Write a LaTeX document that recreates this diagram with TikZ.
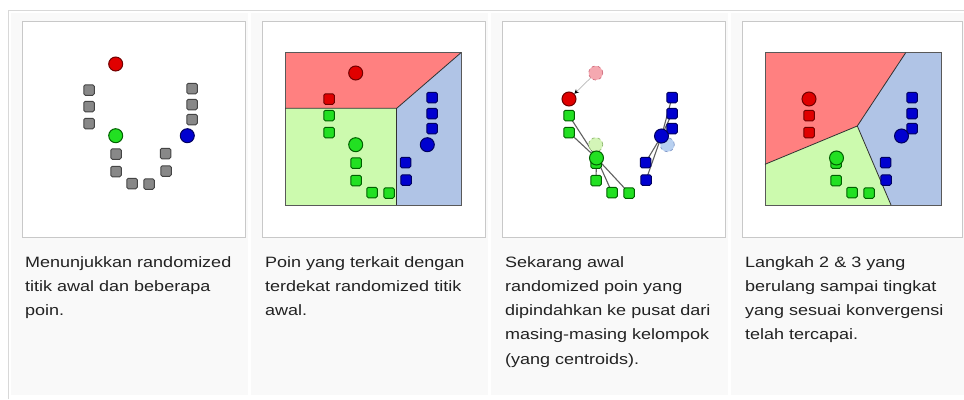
\documentclass[tikz,border=0pt]{standalone}
\usepackage{fontspec}
\setmainfont{Liberation Sans}[FakeStretch=1.2]
\usepackage{tikz}
\usetikzlibrary{arrows.meta}

\definecolor{framegray}{HTML}{D8D8D8}
\definecolor{boxgray}{HTML}{C8C8C8}
\definecolor{cellgray}{HTML}{F9F9F9}
\definecolor{textgray}{HTML}{222222}
\definecolor{ptgray}{HTML}{888888}
\definecolor{ptgrayline}{HTML}{444444}
\definecolor{ptred}{HTML}{E00000}
\definecolor{ptredline}{HTML}{700000}
\definecolor{ptgreen}{HTML}{22E022}
\definecolor{ptgreenline}{HTML}{006000}
\definecolor{ptblue}{HTML}{0000D0}
\definecolor{ptblueline}{HTML}{000060}
\definecolor{regred}{HTML}{FF8080}
\definecolor{reggreen}{HTML}{CCFAAE}
\definecolor{regblue}{HTML}{B0C4E6}
\definecolor{regline}{HTML}{303030}
\definecolor{oldred}{HTML}{F5A8B0}
\definecolor{oldredline}{HTML}{D07080}
\definecolor{oldgreen}{HTML}{D4F5B8}
\definecolor{oldgreenline}{HTML}{90B870}
\definecolor{oldblue}{HTML}{B8D0F0}
\definecolor{oldblueline}{HTML}{8098C8}

\pgfdeclarelayer{back}
\pgfdeclarelayer{links}
\pgfsetlayers{back,links,main}

\begin{document}
\begin{tikzpicture}[x=1pt, y=-1pt,
		pt_base/.style={rectangle,rounded corners=1.5pt,minimum size=10.5pt,inner sep=0pt,line width=1pt},
		pt_gray/.style={pt_base,draw=ptgrayline,fill=ptgray},
		pt_red/.style={pt_base,draw=ptredline,fill=ptred},
		pt_green/.style={pt_base,draw=ptgreenline,fill=ptgreen},
		pt_blue/.style={pt_base,draw=ptblueline,fill=ptblue},
		mean_base/.style={circle,minimum size=14pt,inner sep=0pt,line width=1pt},
		mean_red/.style={mean_base,draw=ptredline,fill=ptred},
		mean_green/.style={mean_base,draw=ptgreenline,fill=ptgreen},
		mean_blue/.style={mean_base,draw=ptblueline,fill=ptblue},
		old_red/.style={mean_base,dashed,line width=0.7pt,draw=oldredline,fill=oldred},
		old_green/.style={mean_base,dashed,line width=0.7pt,draw=oldgreenline,fill=oldgreen},
		old_blue/.style={mean_base,dashed,line width=0.7pt,draw=oldblueline,fill=oldblue},
		link_style/.style={draw=gray!75!black,line width=1.1pt},
		move_style/.style={draw=gray!55,line width=0.7pt,-{Stealth[length=4.5pt,width=4.5pt,black]}},
		region_line/.style={draw=regline,line width=0.8pt},
		box_style/.style={draw=boxgray,fill=white,line width=0.8pt},
		cell_style/.style={fill=cellgray},
		caption_style/.style={anchor=base west,align=left,inner sep=0pt,
			font=\fontsize{15}{24.3}\selectfont,text=textgray}]

	\useasboundingbox (0,0) rectangle (964,399);

	% frame, cells and picture boxes
	\begin{pgfonlayer}{back}
		\fill[white] (0,0) rectangle (964,399);
		\draw[framegray,line width=1pt] (8.5,399) -- (8.5,10.5) -- (964,10.5);
		\foreach \k in {0,1,2,3} {
			\fill[cell_style] (11+240*\k,13) rectangle (248+240*\k,395);
		}
		\draw[box_style] (22,21) rectangle (245,237);
		\draw[box_style] (262,21) rectangle (485,237);
		\draw[box_style] (502,21) rectangle (725,237);
		\draw[box_style] (742,21) rectangle (962.5,237);
	\end{pgfonlayer}

	% panel 1: random means and points
	\begin{scope}
		\node[pt_gray] (a_l1) at (89,90) {};
		\node[pt_gray] (a_l2) at (89,106.5) {};
		\node[pt_gray] (a_l3) at (89,123.5) {};
		\node[pt_gray] (a_r1) at (192,88.5) {};
		\node[pt_gray] (a_r2) at (192,104.5) {};
		\node[pt_gray] (a_r3) at (192,119.5) {};
		\node[pt_gray] (a_g1) at (116,154) {};
		\node[pt_gray] (a_g2) at (116,171.5) {};
		\node[pt_gray] (a_g3) at (132,183.5) {};
		\node[pt_gray] (a_g4) at (149,184) {};
		\node[pt_gray] (a_c1) at (165.5,153.5) {};
		\node[pt_gray] (a_c2) at (166,171) {};
		\node[mean_red] (a_mr) at (115.7,64) {};
		\node[mean_green] (a_mg) at (115.7,135.7) {};
		\node[mean_blue] (a_mb) at (187.3,135.7) {};
	\end{scope}

	% panel 2: clusters around the nearest mean
	\begin{scope}[shift={(240,9)}]
		\fill[regred] (45,43.7) -- (221,43.7) -- (156.7,99.3) -- (45,99.3) -- cycle;
		\fill[reggreen] (45,99.3) -- (156.7,99.3) -- (156.7,196) -- (45,196) -- cycle;
		\fill[regblue] (156.7,99.3) -- (221,43.7) -- (221,196) -- (156.7,196) -- cycle;
		\draw[region_line,draw=regline!80] (45,43.7) rectangle (221,196);
		\draw[region_line] (45,99.3) -- (156.7,99.3) -- (221,43.7);
		\draw[region_line] (156.7,99.3) -- (156.7,196);
		\node[pt_red] (b_l1) at (89,90) {};
		\node[pt_green] (b_l2) at (89,106.5) {};
		\node[pt_green] (b_l3) at (89,123.5) {};
		\node[pt_blue] (b_r1) at (192,88.5) {};
		\node[pt_blue] (b_r2) at (192,104.5) {};
		\node[pt_blue] (b_r3) at (192,119.5) {};
		\node[pt_green] (b_g1) at (116,154) {};
		\node[pt_green] (b_g2) at (116,171.5) {};
		\node[pt_green] (b_g3) at (132,183.5) {};
		\node[pt_green] (b_g4) at (149,184) {};
		\node[pt_blue] (b_c1) at (165.5,153.5) {};
		\node[pt_blue] (b_c2) at (166,171) {};
		\node[mean_red] (b_mr) at (115.7,64) {};
		\node[mean_green] (b_mg) at (115.7,135.7) {};
		\node[mean_blue] (b_mb) at (187.3,135.7) {};
	\end{scope}

	% panel 3: means moved to the centroids
	\begin{scope}[shift={(480,9)}]
		\node[old_red] (c_or) at (115.7,64) {};
		\node[old_green] (c_og) at (115.7,135.7) {};
		\node[old_blue] (c_ob) at (187.3,135.7) {};
		\node[pt_red] (c_l1) at (89,90) {};
		\node[pt_green] (c_l2) at (89,106.5) {};
		\node[pt_green] (c_l3) at (89,123.5) {};
		\node[pt_blue] (c_r1) at (192,88.5) {};
		\node[pt_blue] (c_r2) at (192,104.5) {};
		\node[pt_blue] (c_r3) at (192,119.5) {};
		\node[pt_green] (c_g1) at (116,154) {};
		\node[pt_green] (c_g2) at (116,171.5) {};
		\node[pt_green] (c_g3) at (132,183.5) {};
		\node[pt_green] (c_g4) at (149,184) {};
		\node[pt_blue] (c_c1) at (165.5,153.5) {};
		\node[pt_blue] (c_c2) at (166,171) {};
		\node[mean_red] (c_mr) at (89,90) {};
		\node[mean_green] (c_mg) at (116.5,149) {};
		\node[mean_blue] (c_mb) at (181.5,127) {};
	\end{scope}
	\begin{pgfonlayer}{links}
		\draw[link_style] (c_mg.center) edge (c_l2.center);
		\draw[link_style] (c_mg.center) edge (c_l3.center);
		\draw[link_style] (c_mg.center) edge (c_g1.center);
		\draw[link_style] (c_mg.center) edge (c_g2.center);
		\draw[link_style] (c_mg.center) edge (c_g3.center);
		\draw[link_style] (c_mg.center) edge (c_g4.center);
		\draw[link_style] (c_mb.center) edge (c_r1.center);
		\draw[link_style] (c_mb.center) edge (c_r2.center);
		\draw[link_style] (c_mb.center) edge (c_r3.center);
		\draw[link_style] (c_mb.center) edge (c_c1.center);
		\draw[link_style] (c_mb.center) edge (c_c2.center);
	\end{pgfonlayer}
	\draw[move_style] (c_or) -- (c_mr);

	% panel 4: after convergence
	\begin{scope}[shift={(720,9)}]
		\fill[regred] (45,43.7) -- (185.7,43.7) -- (137.3,117) -- (45,155.3) -- cycle;
		\fill[regblue] (185.7,43.7) -- (221,43.7) -- (221,196) -- (171,196) -- (137.3,117) -- cycle;
		\fill[reggreen] (45,155.3) -- (137.3,117) -- (171,196) -- (45,196) -- cycle;
		\draw[region_line,draw=regline!80] (45,43.7) rectangle (221,196);
		\draw[region_line] (185.7,43.7) -- (137.3,117) -- (45,155.3);
		\draw[region_line] (137.3,117) -- (171,196);
		\node[pt_red] (d_l1) at (89,90) {};
		\node[pt_red] (d_l2) at (89,106.5) {};
		\node[pt_red] (d_l3) at (89,123.5) {};
		\node[pt_blue] (d_r1) at (192,88.5) {};
		\node[pt_blue] (d_r2) at (192,104.5) {};
		\node[pt_blue] (d_r3) at (192,119.5) {};
		\node[pt_green] (d_g1) at (116,154) {};
		\node[pt_green] (d_g2) at (116,171.5) {};
		\node[pt_green] (d_g3) at (132,183.5) {};
		\node[pt_green] (d_g4) at (149,184) {};
		\node[pt_blue] (d_c1) at (165.5,153.5) {};
		\node[pt_blue] (d_c2) at (166,171) {};
		\node[mean_red] (d_mr) at (89,90) {};
		\node[mean_green] (d_mg) at (116.5,149) {};
		\node[mean_blue] (d_mb) at (181.5,127) {};
	\end{scope}

	% captions (base anchor sits on the last line)
	\node[caption_style] (cap1) at (25,315.6) {Menunjukkan randomized\\titik awal dan beberapa\\poin.};
	\node[caption_style] (cap2) at (265,315.6) {Poin yang terkait dengan\\terdekat randomized titik\\awal.};
	\node[caption_style] (cap3) at (505,364.2) {Sekarang awal\\randomized poin yang\\dipindahkan ke pusat dari\\masing-masing kelompok\\(yang centroids).};
	\node[caption_style] (cap4) at (745,339.9) {Langkah 2 \& 3 yang\\berulang sampai tingkat\\yang sesuai konvergensi\\telah tercapai.};
\end{tikzpicture}
\end{document}
